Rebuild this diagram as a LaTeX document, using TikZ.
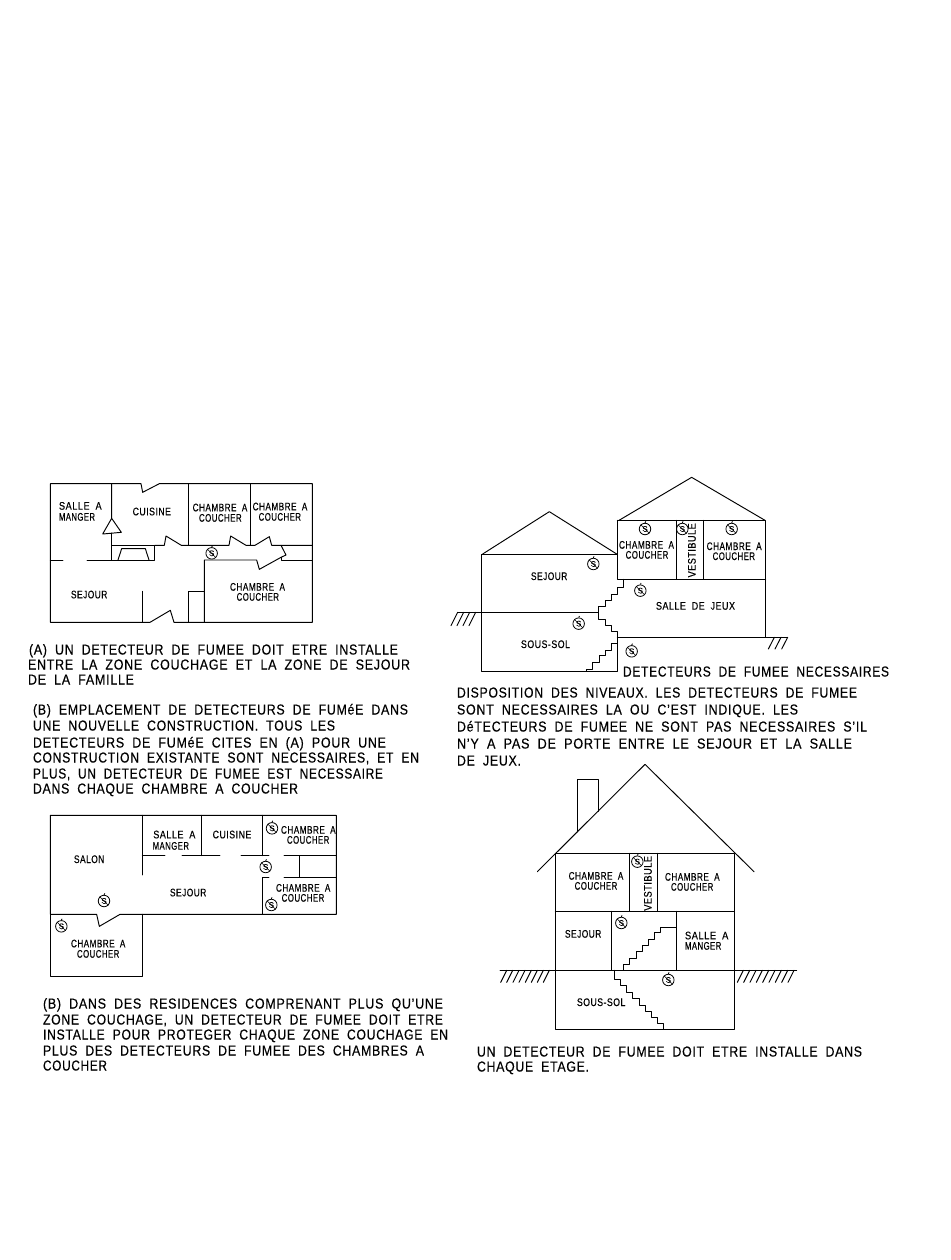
\documentclass[tikz,border=0pt]{standalone}
\usepackage{fontspec}
\usepackage{graphicx}
\setmainfont[LetterSpace=6,FakeBold=0.4]{Liberation Sans}
\newcounter{lb}
% zoom-coordinate frame: 1 unit = 1/3 px
\tikzset{
  wall/.style={line width=0.95pt,line cap=round,line join=round,black},
  zoomed/.style={x=0.33333pt,y=-0.33333pt},
  txt/.style={inner sep=0pt,outer sep=0pt,anchor=south west,black},
  det/.style={circle,draw=black,line width=0.8pt,inner sep=0pt,minimum size=11.5pt}
}
\newcommand{\linebox}[3]{\resizebox{#1pt}{#2pt}{\spaceskip=0.65em\rule{0pt}{7.29pt}\smash{#3}}}
% \lab{x1}{x2}{yc}{text} small labels (in zoom units), cap height 8px
\newcommand{\lab}[4]{\pgfmathsetmacro{\lw}{(#2-#1)/3}\stepcounter{lb}%
  \node[txt] (l\thelb) at (#1,#3+12) {\linebox{\lw}{8}{#4}};}
% \vlab{xc}{y1}{y2}{text}
\newcommand{\vlab}[4]{\pgfmathsetmacro{\lw}{(#3-#2)/3}\stepcounter{lb}%
  \node[txt,rotate=90] (l\thelb) at (#1+12,#3) {\linebox{\lw}{8}{#4}};}
% \para{x1}{x2}{yc}{text} paragraph lines in real px, cap height 11px
\newcommand{\para}[4]{\pgfmathsetmacro{\lw}{#2-#1}\stepcounter{lb}%
  \node[txt] (l\thelb) at (#1,#3+5.5) {\linebox{\lw}{10.5}{#4}};}
% detector
\newcommand{\detect}[1]{\stepcounter{lb}%
  \node[det] (d\thelb) at (#1) {\fontsize{8}{8}\selectfont S};
  \draw[line width=0.5pt] (d\thelb.north west)--(d\thelb.south east);
  \draw[line width=0.8pt] (d\thelb.north)--++(0.8pt,1.5pt);}
\begin{document}
\begin{tikzpicture}[x=1pt,y=-1pt]
\useasboundingbox (0,0) rectangle (950,1260);
\fill[white] (0,0) rectangle (950,1260);

% ---------- Plan 1
\begin{scope}[shift={(40,470)},zoomed]
\draw[wall] (303,41)--(308,67)--(358,41)--(817,41)--(817,457)--(402,457)--(391,421)--(330,457)--(31,457)--(31,41)--cycle;
\draw[wall] (215,41)--(215,145)--(188,192)--(244,187)--(215,145);
\draw[wall] (215,189)--(215,270);
\draw[wall] (31,270)--(69,270);
\draw[wall] (141,270)--(344,270)--(344,226)--(215,226);
\draw[wall] (234,270)--(245,236)--(316,236)--(327,270);
\draw[wall] (344,226)--(373,226)--(378,198)--(424,226)--(567,226)--(572,198)--(618,226)--(645,226)--(688,200)--(695,226)--(817,226);
\draw[wall] (445,41)--(445,226);
\draw[wall] (632,41)--(632,226);
\draw[wall] (493,457)--(493,270)--(650,270)--(658,298)--(723,262)--(738,255)--(723,226);
\draw[wall] (723,262)--(723,270)--(817,270);
\draw[wall] (307,364)--(307,457);
\draw[wall] (445,457)--(445,364)--(493,364);
\lab{57}{185}{107}{SALLE A}
\lab{57}{165}{140}{MANGER}
\lab{278}{393}{124}{CUISINE}
\lab{458}{622}{112}{CHAMBRE A}
\lab{477}{605}{143}{COUCHER}
\lab{638}{802}{109}{CHAMBRE A}
\lab{656}{783}{140}{COUCHER}
\lab{570}{735}{350}{CHAMBRE A}
\lab{590}{717}{380}{COUCHER}
\lab{93}{202}{373}{SEJOUR}
\detect{515,250}
\end{scope}

% ---------- Plan 2
\begin{scope}[shift={(440,470)},zoomed]
\draw[wall] (128,252)--(328,125)--(530,252);
\draw[wall] (537,151)--(755,22)--(975,151);
\draw[wall] (532,254)--(124,254)--(124,603)--(532,603)--(532,502);
\draw[wall] (532,151)--(977,151)--(977,502)--(532,502);
\draw[wall] (532,151)--(532,328)--(977,328);
\draw[wall] (710,151)--(710,328);
\draw[wall] (790,151)--(790,328);
\draw[wall] (551,328)--(551,353)--(532,353)--(532,373)--(514,373)--(514,391)--(495,391)--(495,409)--(475,409)--(475,427)--(475,447)--(495,447)--(495,465)--(514,465)--(514,483)--(532,483)--(532,502);
\draw[wall] (532,520)--(514,520)--(514,540)--(495,540)--(495,557)--(477,557)--(477,577)--(458,577)--(458,597)--(438,597)--(438,603);
\draw[wall] (53,427)--(475,427);
\draw[wall] (977,502)--(1043,502);
\foreach \t in {53,71,89,107} \draw[wall] (\t,427)--(\t-20,467);
\foreach \t in {1003,1023,1043} \draw[wall] (\t,502)--(\t-18,537);
\lab{537}{702}{224}{CHAMBRE A}
\lab{557}{685}{254}{COUCHER}
\lab{800}{965}{228}{CHAMBRE A}
\lab{818}{945}{258}{COUCHER}
\vlab{755}{160}{322}{VESTIBULE}
\lab{273}{382}{318}{SEJOUR}
\lab{648}{885}{407}{SALLE DE JEUX}
\lab{243}{390}{522}{SOUS-SOL}
\detect{615,177}
\detect{727,177}
\detect{875,177}
\detect{460,282}
\detect{601,362}
\detect{416,461}
\detect{575,544}
\end{scope}

% ---------- Plan 3
\begin{scope}[shift={(40,805)},zoomed]
\draw[wall] (31,31)--(889,31)--(889,328)--(240,328)--(178,364)--(170,328)--(31,328)--cycle;
\draw[wall] (31,328)--(31,515)--(307,515)--(307,328);
\draw[wall] (307,31)--(307,210);
\draw[wall] (485,31)--(485,152);
\draw[wall] (667,31)--(667,152);
\draw[wall] (307,152)--(375,152);
\draw[wall] (426,152)--(540,152);
\draw[wall] (603,152)--(687,152);
\draw[wall] (732,152)--(889,152);
\draw[wall] (778,152)--(778,217);
\draw[wall] (687,217)--(667,217)--(667,328);
\draw[wall] (732,217)--(889,217);
\lab{340}{466}{88}{SALLE A}
\lab{338}{447}{122}{MANGER}
\lab{518}{634}{88}{CUISINE}
\lab{723}{887}{74}{CHAMBRE A}
\lab{741}{868}{104}{COUCHER}
\lab{102}{193}{162}{SALON}
\lab{390}{499}{262}{SEJOUR}
\lab{708}{871}{248}{CHAMBRE A}
\lab{725}{853}{278}{COUCHER}
\lab{93}{256}{415}{CHAMBRE A}
\lab{111}{238}{446}{COUCHER}
\detect{696,70}
\detect{677,186}
\detect{694,300}
\detect{192,288}
\detect{64,364}
\end{scope}

% ---------- Plan 4
\begin{scope}[shift={(490,760)},zoomed]
\draw[wall] (142,335)--(465,13)--(792,335);
\draw[wall] (262,216)--(262,58)--(325,58)--(325,154);
\draw[wall] (196,280) rectangle (733,808);
\draw[wall] (196,454)--(733,454);
\draw[wall] (30,631)--(920,631);
\draw[wall] (418,280)--(418,454);
\draw[wall] (502,280)--(502,454);
\draw[wall] (364,454)--(364,631);
\draw[wall] (559,454)--(559,631);
\draw[wall] (400,631)--(400,613)--(418,613)--(418,594)--(438,594)--(438,574)--(457,574)--(457,555)--(476,555)--(476,537)--(494,537)--(494,518)--(512,518)--(512,501)--(559,501);
\draw[wall] (373,631)--(373,657)--(391,657)--(391,677)--(410,677)--(410,697)--(428,697)--(428,715)--(447,715)--(447,735)--(465,735)--(465,753)--(484,753)--(484,771)--(502,771)--(502,790)--(521,790)--(521,808);
\foreach \t in {50,68,87,105,124,142,160,178} \draw[wall] (\t,631)--(\t-18,667);
\foreach \t in {760,779,798,817,836,855,874,893,912} \draw[wall] (\t,631)--(\t-18,667);
\lab{236}{400}{347}{CHAMBRE A}
\lab{254}{382}{377}{COUCHER}
\vlab{473}{288}{452}{VESTIBULE}
\lab{525}{689}{350}{CHAMBRE A}
\lab{543}{670}{380}{COUCHER}
\lab{225}{334}{521}{SEJOUR}
\lab{585}{715}{526}{SALLE A}
\lab{585}{694}{557}{MANGER}
\lab{261}{406}{726}{SOUS-SOL}
\detect{442,305}
\detect{394,489}
\detect{535,660}
\end{scope}

% ---------- Paragraphs
\para{29}{398}{649}{(A) UN DETECTEUR DE FUMEE DOIT ETRE INSTALLE}
\para{28}{410}{664}{ENTRE LA ZONE COUCHAGE ET LA ZONE DE SEJOUR}
\para{28}{134}{679}{DE LA FAMILLE}
\para{33}{408}{709}{(B) EMPLACEMENT DE DETECTEURS DE FUMéE DANS}
\para{33}{335}{725}{UNE NOUVELLE CONSTRUCTION. TOUS LES}
\para{33}{386}{742}{DETECTEURS DE FUMéE CITES EN (A) POUR UNE}
\para{33}{419}{757}{CONSTRUCTION EXISTANTE SONT NECESSAIRES, ET EN}
\para{33}{383}{773}{PLUS, UN DETECTEUR DE FUMEE EST NECESSAIRE}
\para{33}{298}{788}{DANS CHAQUE CHAMBRE A COUCHER}

\para{623}{889}{671}{DETECTEURS DE FUMEE NECESSAIRES}
\para{457}{857}{692}{DISPOSITION DES NIVEAUX. LES DETECTEURS DE FUMEE}
\para{457}{798}{709}{SONT NECESSAIRES LA OU C'EST INDIQUE. LES}
\para{457}{867}{726}{DéTECTEURS DE FUMEE NE SONT PAS NECESSAIRES S'IL}
\para{457}{852}{743}{N'Y A PAS DE PORTE ENTRE LE SEJOUR ET LA SALLE}
\para{457}{521}{760}{DE JEUX.}

\para{43}{443}{1003}{(B) DANS DES RESIDENCES COMPRENANT PLUS QU'UNE}
\para{43}{443}{1019}{ZONE COUCHAGE, UN DETECTEUR DE FUMEE DOIT ETRE}
\para{43}{448}{1034}{INSTALLE POUR PROTEGER CHAQUE ZONE COUCHAGE EN}
\para{43}{424}{1050}{PLUS DES DETECTEURS DE FUMEE DES CHAMBRES A}
\para{43}{107}{1065}{COUCHER}

\para{477}{862}{1051}{UN DETECTEUR DE FUMEE DOIT ETRE INSTALLE DANS}
\para{477}{589}{1066}{CHAQUE ETAGE.}
\end{tikzpicture}
\end{document}
